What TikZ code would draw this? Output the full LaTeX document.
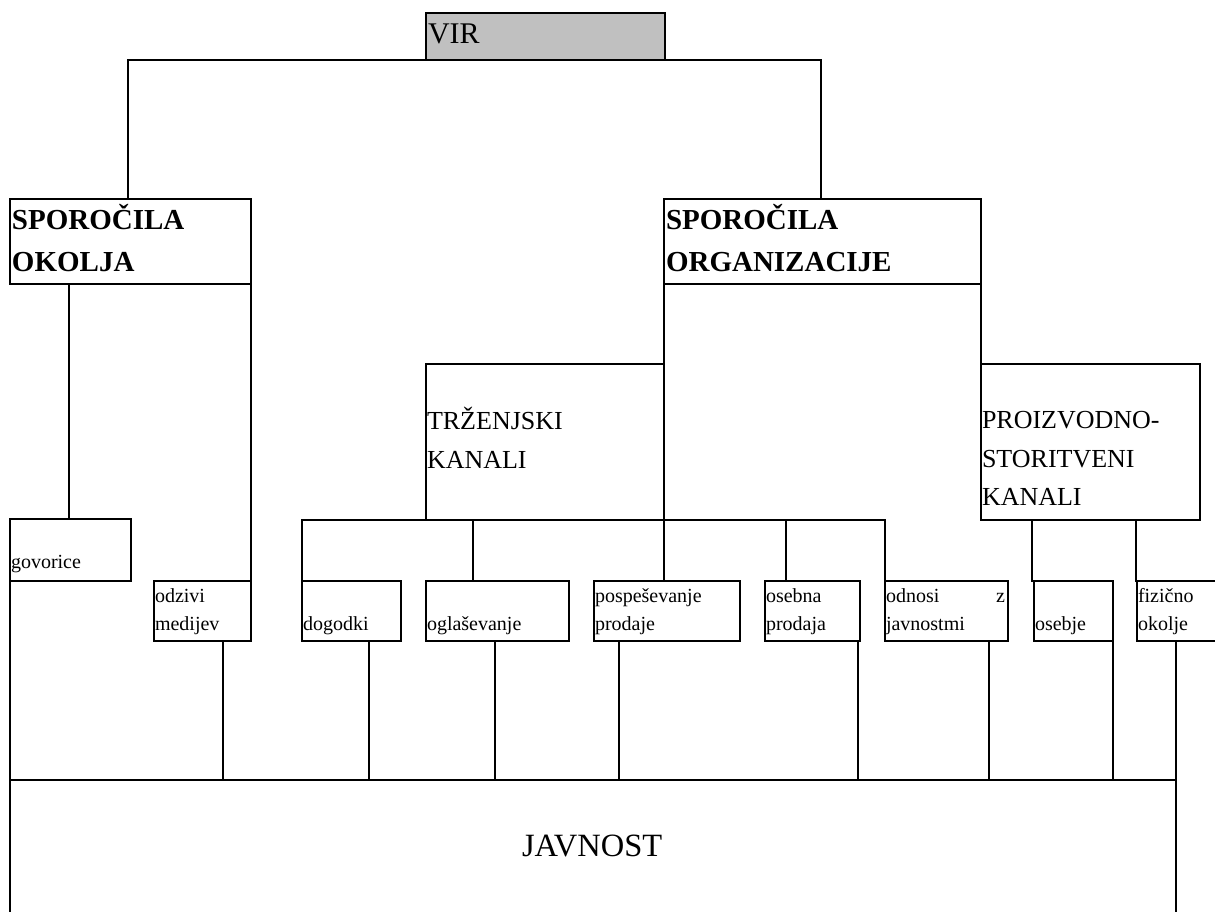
\documentclass[tikz,border=0pt]{standalone}
\usepackage{fontspec}
\setmainfont{Liberation Serif}
\definecolor{virgray}{HTML}{C0C0C0}
\begin{document}
\begin{tikzpicture}[x=1pt,y=-1pt,
  box/.style={draw, line width=1.5pt, rectangle, inner sep=0pt, outer sep=0pt, anchor=north west},
  conn/.style={draw, line width=1.5pt, line cap=rect},
  txt/.style={anchor=base west, inner sep=0pt, outer sep=0pt},
  big/.style={txt, font=\fontsize{30}{36}\selectfont},
  bigb/.style={txt, font=\fontsize{29}{35}\selectfont\bfseries},
  mid/.style={txt, font=\fontsize{26}{31}\selectfont},
  small/.style={txt, font=\fontsize{20}{24}\selectfont}]
\clip (0,0) rectangle (1215,911);
\fill[white] (0,0) rectangle (1215,911);
% boxes
\node[box, fill=virgray, minimum width=239pt, minimum height=47pt] (vir) at (426,13) {};
\node[box, minimum width=241pt, minimum height=85pt] (okolje) at (10,199) {};
\node[box, minimum width=317pt, minimum height=85pt] (org) at (664,199) {};
\node[box, minimum width=238pt, minimum height=156pt] (trz) at (426,364) {};
\node[box, minimum width=219pt, minimum height=156pt] (proiz) at (981,364) {};
\node[box, minimum width=121pt, minimum height=62pt] (govorice) at (10,519) {};
\node[box, minimum width=97pt, minimum height=60pt] (odzivi) at (154,581) {};
\node[box, minimum width=99pt, minimum height=60pt] (dogodki) at (302,581) {};
\node[box, minimum width=143pt, minimum height=60pt] (oglas) at (426,581) {};
\node[box, minimum width=146pt, minimum height=60pt] (posp) at (594,581) {};
\node[box, minimum width=95pt, minimum height=60pt] (osebna) at (765,581) {};
\node[box, minimum width=123pt, minimum height=60pt] (odnosi) at (885,581) {};
\node[box, minimum width=79pt, minimum height=60pt] (osebje) at (1034,581) {};
\node[box, minimum width=100pt, minimum height=60pt] (fizicno) at (1137,581) {};
\node[box, minimum width=1166pt, minimum height=150pt] (javnost) at (10,780) {};
% texts
\node[big] (virT) at (428,43) {VIR};
\node[bigb] (okT1) at (12,229) {SPOROČILA};
\node[bigb] (okT2) at (12,271) {OKOLJA};
\node[bigb] (orT1) at (666,229) {SPOROČILA};
\node[bigb] (orT2) at (666,271) {ORGANIZACIJE};
\node[mid] (trT1) at (427,429) {TRŽENJSKI};
\node[mid] (trT2) at (427,468) {KANALI};
\node[mid] (prT1) at (982,428) {PROIZVODNO-};
\node[mid] (prT2) at (982,467) {STORITVENI};
\node[mid] (prT3) at (982,505) {KANALI};
\node[small] (goT) at (11,568) {govorice};
\node[small] (odT1) at (155,602) {odzivi};
\node[small] (odT2) at (155,630) {medijev};
\node[small] (doT) at (303,630) {dogodki};
\node[small] (ogT) at (427,630) {oglaševanje};
\node[small] (poT1) at (595,602) {pospeševanje};
\node[small] (poT2) at (595,630) {prodaje};
\node[small] (osT1) at (766,602) {osebna};
\node[small] (osT2) at (766,630) {prodaja};
\node[small] (onT1) at (886,602) {odnosi};
\node[small, anchor=base east] (onT2) at (1005,602) {z};
\node[small] (onT3) at (886,630) {javnostmi};
\node[small] (oeT) at (1035,630) {osebje};
\node[small] (fiT1) at (1138,602) {fizično};
\node[small] (fiT2) at (1138,630) {okolje};
\node[txt, font=\fontsize{32.5}{38}\selectfont] (jaT) at (522,856) {JAVNOST};
% helper coordinates
\coordinate (vl) at (128,60);
\coordinate (vr) at (821,60);
\coordinate (gx) at (69,0);
\coordinate (t1) at (473,0);
\coordinate (t2) at (786,0);
\coordinate (p1) at (1032,0);
\coordinate (p2) at (1136,0);
\coordinate (b1) at (223,0);
\coordinate (b2) at (369,0);
\coordinate (b3) at (495,0);
\coordinate (b4) at (619,0);
\coordinate (b5) at (858,0);
\coordinate (b6) at (989,0);
\coordinate (b7) at (1113,0);
\coordinate (b8) at (1176,0);
% connectors
\draw[conn] (okolje.north -| vl) -- (vl) -- (vr) -- (org.north -| vr);
\draw[conn] (okolje.south -| gx) -- (govorice.north -| gx);
\draw[conn] (okolje.south east) -- (odzivi.north east);
\draw[conn] (govorice.south west) -- (javnost.north west);
\draw[conn] (org.south west) -- (posp.north -| org.south west);
\draw[conn] (dogodki.north west) -- (dogodki.north west |- trz.south) -- (odnosi.north west |- trz.south) -- (odnosi.north west);
\draw[conn] (trz.south -| t1) -- (oglas.north -| t1);
\draw[conn] (trz.south -| t2) -- (osebna.north -| t2);
\draw[conn] (org.south east) -- (proiz.north west);
\draw[conn] (proiz.south -| p1) -- (osebje.north -| p1);
\draw[conn] (proiz.south -| p2) -- (fizicno.north -| p2);
\draw[conn] (odzivi.south -| b1) -- (javnost.north -| b1);
\draw[conn] (dogodki.south -| b2) -- (javnost.north -| b2);
\draw[conn] (oglas.south -| b3) -- (javnost.north -| b3);
\draw[conn] (posp.south -| b4) -- (javnost.north -| b4);
\draw[conn] (osebna.south -| b5) -- (javnost.north -| b5);
\draw[conn] (odnosi.south -| b6) -- (javnost.north -| b6);
\draw[conn] (osebje.south -| b7) -- (javnost.north -| b7);
\draw[conn] (fizicno.south -| b8) -- (javnost.north -| b8);
\end{tikzpicture}
\end{document}
